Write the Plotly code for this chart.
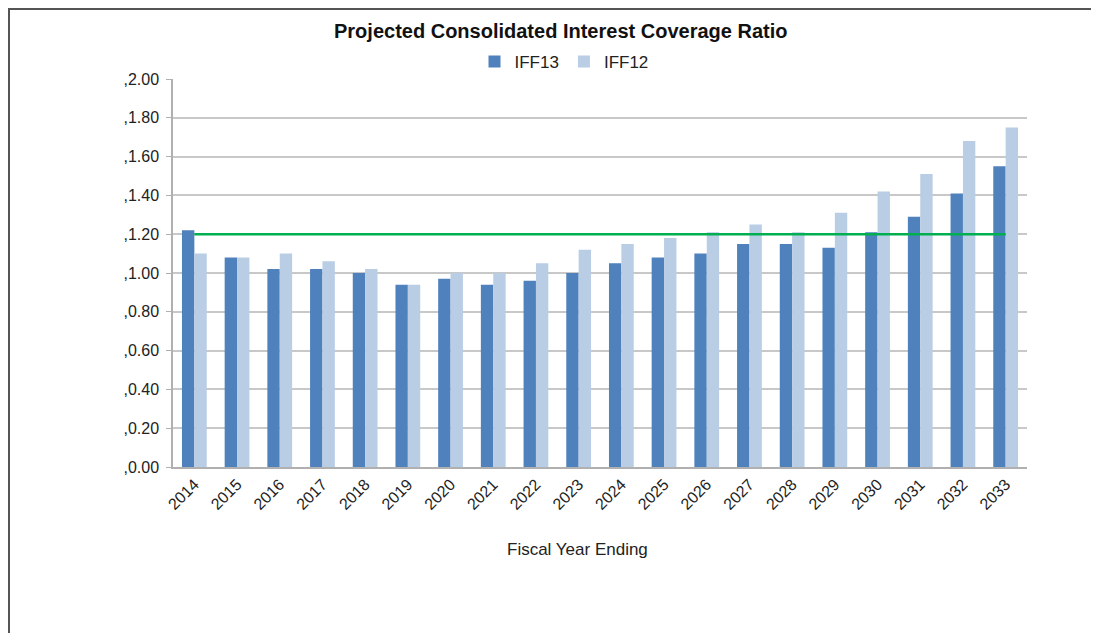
import plotly.graph_objects as go

years = [str(y) for y in range(2014, 2034)]
iff13 = [1.22, 1.08, 1.02, 1.02, 1.00, 0.94, 0.97, 0.94, 0.96, 1.00,
         1.05, 1.08, 1.10, 1.15, 1.15, 1.13, 1.21, 1.29, 1.41, 1.55]
iff12 = [1.10, 1.08, 1.10, 1.06, 1.02, 0.94, 1.00, 1.00, 1.05, 1.12,
         1.15, 1.18, 1.21, 1.25, 1.21, 1.31, 1.42, 1.51, 1.68, 1.75]
target = [1.20] * len(years)
y_ticks = [0.0, 0.2, 0.4, 0.6, 0.8, 1.0, 1.2, 1.4, 1.6, 1.8, 2.0]
y_ticktext = [",0.00", ",0.20", ",0.40", ",0.60", ",0.80", ",1.00",
              ",1.20", ",1.40", ",1.60", ",1.80", ",2.00"]

FONT = "Liberation Sans, Arial, sans-serif"
OFF = 8  # page offset of the figure
W, H = 1099, 633
L, R, T, B = 165, 80, 71, 174
pw, ph = W - L - R, H - T - B

def px(x):
    return (x - OFF - L) / pw

def py(y):
    return (H - B - (y - OFF)) / ph

fig = go.Figure()
fig.add_trace(go.Bar(x=years, y=iff13, name="IFF13", marker_color="#4f81bd",
                     marker_line_width=0))
fig.add_trace(go.Bar(x=years, y=iff12, name="IFF12", marker_color="#b9cde5",
                     marker_line_width=0))
fig.add_trace(go.Scatter(x=years, y=target, mode="lines", showlegend=False,
                         line=dict(color="#00b050", width=2.5)))

fig.update_layout(
    width=W, height=H,
    margin=dict(l=L, r=R, t=T, b=B),
    paper_bgcolor="white", plot_bgcolor="white",
    barmode="group", bargap=0.42, bargroupgap=0,
    font=dict(family=FONT, size=16, color="#222222"),
    showlegend=True,
    legend=dict(orientation="h", x=px(564), y=py(62), xanchor="center",
                yanchor="middle", font=dict(size=17, color="#222222"),
                itemwidth=30, tracegroupgap=0, bgcolor="rgba(0,0,0,0)"),
    xaxis=dict(showgrid=False, showline=True, linecolor="#b0b0b0", linewidth=1.5,
               tickangle=-45, ticks="", tickfont=dict(size=16, color="#222222")),
    yaxis=dict(range=[0, 2.0], tickvals=y_ticks, ticktext=y_ticktext,
               showgrid=True, gridcolor="#c8c8c8", gridwidth=1.5,
               showline=True, linecolor="#b0b0b0", linewidth=1.5,
               ticks="outside", ticklen=5, tickcolor="#b0b0b0",
               ticklabelstandoff=4, zeroline=False,
               tickfont=dict(size=16, color="#222222")),
    annotations=[
        dict(text="<b>Projected Consolidated Interest Coverage Ratio</b>",
             xref="paper", yref="paper", x=px(560), y=py(31),
             xanchor="center", yanchor="middle", showarrow=False,
             font=dict(size=20, color="#111111", family=FONT)),
        dict(text="Fiscal Year Ending", xref="paper", yref="paper",
             x=px(577), y=py(549), xanchor="center", yanchor="middle",
             showarrow=False, font=dict(size=17, color="#222222", family=FONT)),
    ],
    shapes=[
        dict(type="rect", xref="paper", yref="paper",
             x0=px(9), x1=px(1130), y0=py(680), y1=py(9),
             line=dict(color="#555555", width=2), fillcolor="rgba(0,0,0,0)",
             layer="below"),
    ],
)

fig.write_html("out.html")
